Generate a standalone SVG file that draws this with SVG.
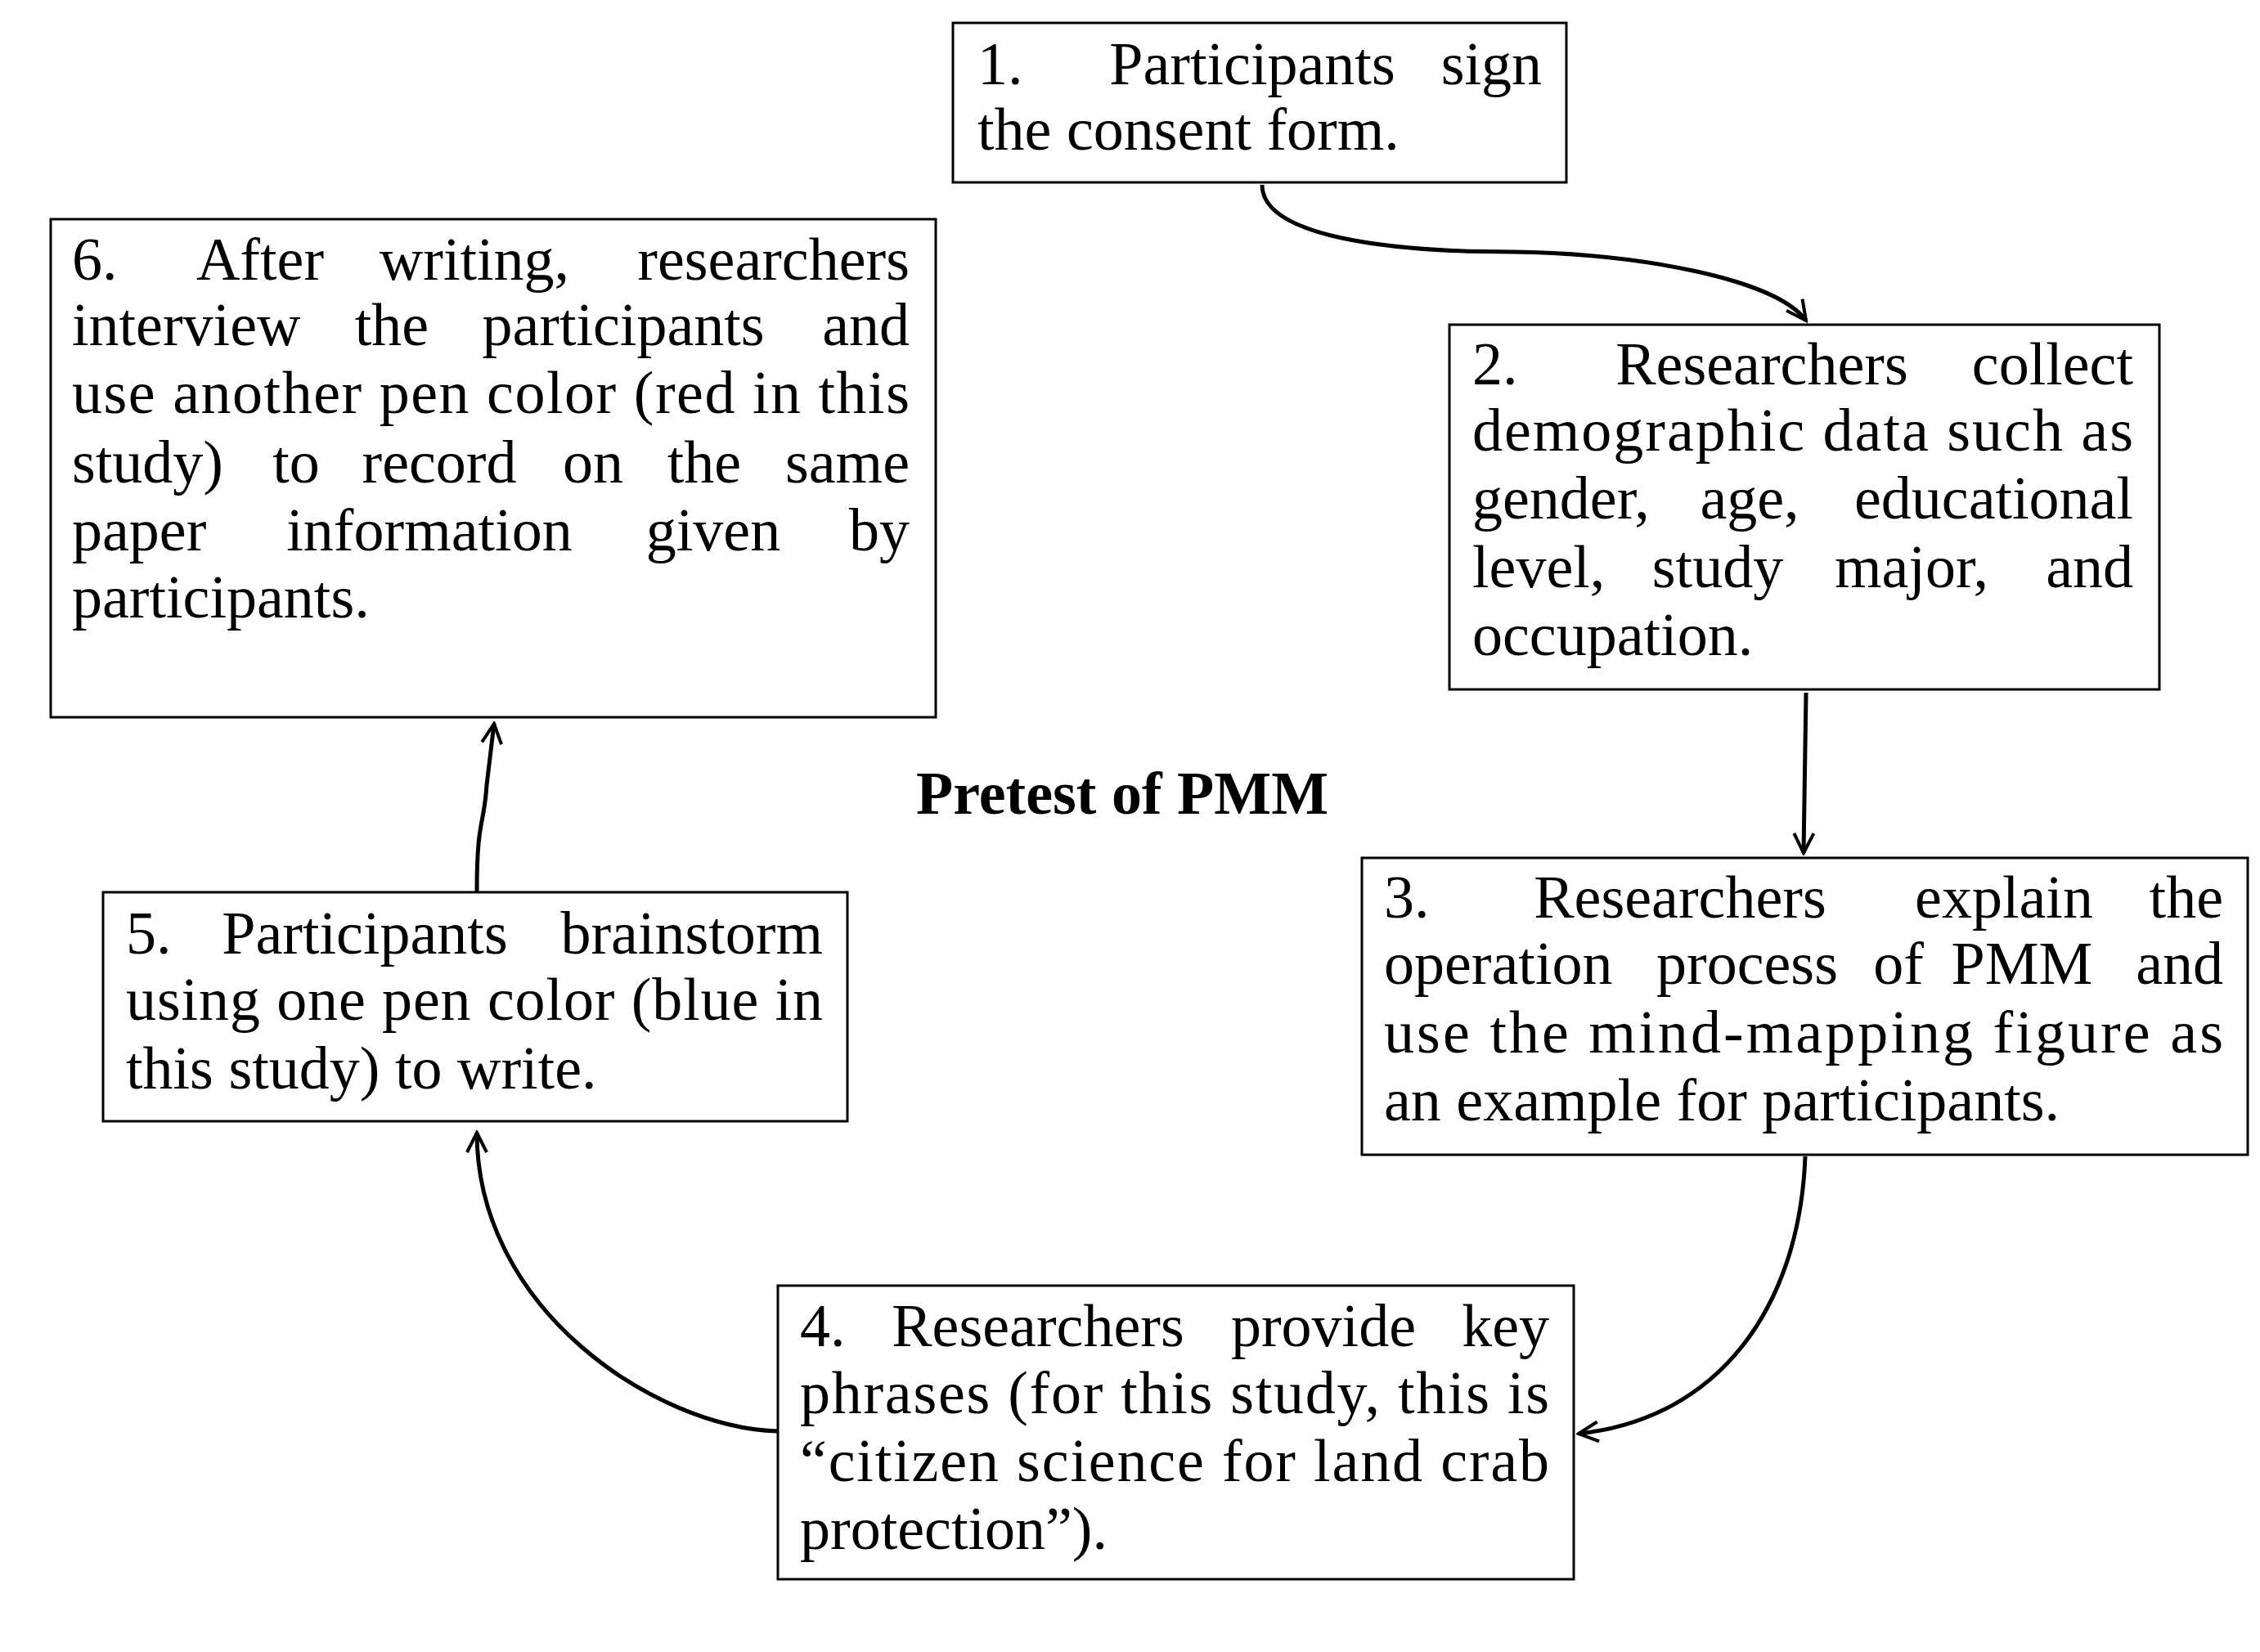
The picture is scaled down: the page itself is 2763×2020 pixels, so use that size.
<svg xmlns="http://www.w3.org/2000/svg" width="2763" height="2020" viewBox="0 0 2763 2020">
<style>
.box{fill:#fff;stroke:#000;stroke-width:3}
.t{font-family:"Palatino Linotype","Book Antiqua","Liberation Serif",serif;font-size:74px;fill:#000}
.m{text-anchor:middle}
.e{text-anchor:end}
.c{fill:none;stroke:#000;stroke-width:5}
</style>
<defs>
<marker id="a" viewBox="0 0 30 30" refX="27" refY="15" markerWidth="30" markerHeight="30" orient="auto" markerUnits="userSpaceOnUse">
<path d="M3,3 L27,15 L3,27" fill="none" stroke="#000" stroke-width="4"/>
</marker>
</defs>
<rect width="2763" height="2020" fill="#fff"/>
<g id="connectors">
<path class="c" marker-end="url(#a)" d="M1543,226 C1543,290 1700,308 1850,308 C2000,310 2170,340 2208,392"/>
<path class="c" marker-end="url(#a)" d="M2208,847 L2205,1043"/>
<path class="c" marker-end="url(#a)" d="M2207,1414 C2200,1600 2100,1735 1930,1753"/>
<path class="c" marker-end="url(#a)" d="M950,1750 C800,1745 583,1600 583,1385"/>
<path class="c" marker-end="url(#a)" d="M583,1090 C583,1000 592,1010 595,960 L604,885"/>
</g>
<g id="n1"><rect class="box" x="1165" y="28" width="750" height="195"/>
<text class="t" x="1195" y="103">1.</text><text class="t m" x="1531" y="103">Participants</text><text class="t e" x="1885" y="103">sign</text>
<text class="t" x="1195" y="183">the consent form.</text></g>
<g id="n2"><rect class="box" x="1772" y="397" width="868" height="446"/>
<text class="t" x="1800" y="470">2.</text><text class="t m" x="2154" y="470">Researchers</text><text class="t e" x="2608" y="470">collect</text>
<text class="t" x="1800" y="551" textLength="808" lengthAdjust="spacing">demographic data such as</text>
<text class="t" x="1800" y="634">gender,</text><text class="t m" x="2139" y="634">age,</text><text class="t e" x="2608" y="634">educational</text>
<text class="t" x="1800" y="718">level,</text><text class="t m" x="2100" y="718">study</text><text class="t m" x="2337" y="718">major,</text><text class="t e" x="2608" y="718">and</text>
<text class="t" x="1800" y="801">occupation.</text></g>
<g id="n3"><rect class="box" x="1665" y="1049" width="1083" height="363"/>
<text class="t" x="1692" y="1122">3.</text><text class="t m" x="2054" y="1122">Researchers</text><text class="t m" x="2450" y="1122">explain</text><text class="t e" x="2718" y="1122">the</text>
<text class="t" x="1692" y="1203">operation</text><text class="t m" x="2136" y="1203">process</text><text class="t m" x="2321" y="1203">of</text><text class="t m" x="2472" y="1203">PMM</text><text class="t e" x="2718" y="1203">and</text>
<text class="t" x="1692" y="1287" textLength="1026" lengthAdjust="spacing">use the mind-mapping figure as</text>
<text class="t" x="1692" y="1370">an example for participants.</text></g>
<g id="n4"><rect class="box" x="951" y="1572" width="973" height="359"/>
<text class="t" x="978" y="1646">4.</text><text class="t m" x="1269" y="1646">Researchers</text><text class="t m" x="1618" y="1646">provide</text><text class="t e" x="1894" y="1646">key</text>
<text class="t" x="978" y="1728" textLength="916" lengthAdjust="spacing">phrases (for this study, this is</text>
<text class="t" x="978" y="1811" textLength="916" lengthAdjust="spacing">“citizen science for land crab</text>
<text class="t" x="978" y="1894">protection”).</text></g>
<g id="n5"><rect class="box" x="126" y="1091" width="910" height="280"/>
<text class="t" x="154" y="1166">5.</text><text class="t m" x="446" y="1166">Participants</text><text class="t e" x="1006" y="1166">brainstorm</text>
<text class="t" x="154" y="1247" textLength="852" lengthAdjust="spacing">using one pen color (blue in</text>
<text class="t" x="154" y="1331">this study) to write.</text></g>
<g id="n6"><rect class="box" x="62" y="268" width="1082" height="609"/>
<text class="t" x="88" y="342">6.</text><text class="t m" x="318" y="342">After</text><text class="t m" x="580" y="342">writing,</text><text class="t e" x="1112" y="342">researchers</text>
<text class="t" x="88" y="422">interview</text><text class="t m" x="479" y="422">the</text><text class="t m" x="762" y="422">participants</text><text class="t e" x="1112" y="422">and</text>
<text class="t" x="88" y="505" textLength="1024" lengthAdjust="spacing">use another pen color (red in this</text>
<text class="t" x="88" y="590">study)</text><text class="t m" x="362" y="590">to</text><text class="t m" x="537" y="590">record</text><text class="t m" x="725" y="590">on</text><text class="t m" x="861" y="590">the</text><text class="t e" x="1112" y="590">same</text>
<text class="t" x="88" y="673">paper</text><text class="t m" x="525" y="673">information</text><text class="t m" x="872" y="673">given</text><text class="t e" x="1112" y="673">by</text>
<text class="t" x="88" y="755">participants.</text></g>
<g id="title"><text class="t m" x="1372" y="995" font-weight="bold" font-size="72">Pretest of PMM</text></g>
</svg>
